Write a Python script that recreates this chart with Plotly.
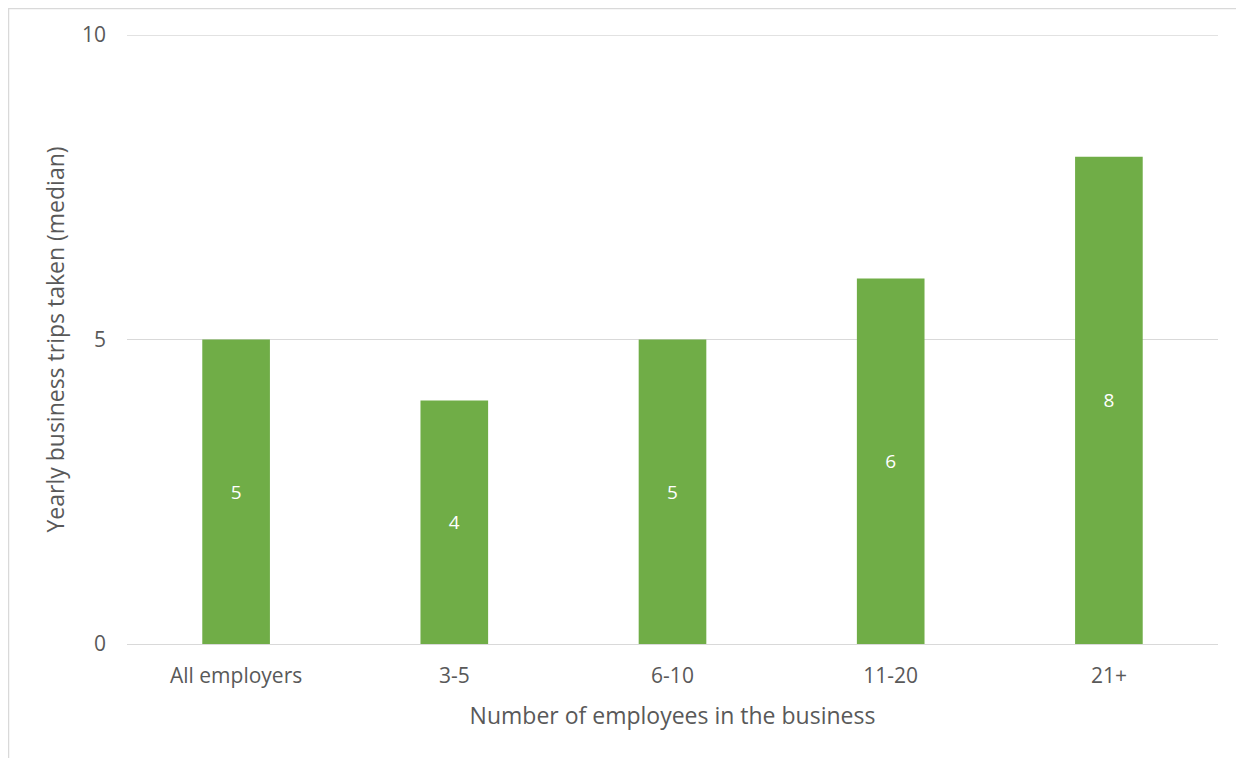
import plotly.graph_objects as go

categories = ["All employers", "3-5", "6-10", "11-20", "21+"]
values = [5, 4, 5, 6, 8]
y_ticks = [0, 5, 10]

# page body has an 8px margin; figure is placed at (8, 8)
W, H = 1236, 750
L, R, T, B = 119, 26, 27, 114
pw, ph = W - L - R, H - T - B

fig = go.Figure(go.Bar(
    x=categories, y=values, width=0.31,
    marker=dict(color="#70AD47", line=dict(width=0)),
    text=[str(v) for v in values], textposition="inside",
    insidetextanchor="middle",
    textfont=dict(color="white", size=19, family="Open Sans"),
))

fig.update_layout(
    width=W, height=H,
    margin=dict(l=L, r=R, t=T, b=B),
    plot_bgcolor="white", paper_bgcolor="white",
    font=dict(family="Open Sans", color="#595959", size=21),
    showlegend=False,
    xaxis=dict(
        title=dict(text="Number of employees in the business", font=dict(size=23), standoff=19),
        showgrid=False, showline=False, ticks="", tickfont=dict(size=21),
        ticklabelstandoff=17,
    ),
    yaxis=dict(
        title=dict(text="Yearly business trips taken (median)", font=dict(size=23), standoff=10),
        range=[0, 10], tickvals=y_ticks, showgrid=True, gridcolor="#D9D9D9", gridwidth=1.3,
        zeroline=True, zerolinecolor="#D9D9D9", zerolinewidth=1.3,
        showline=False, ticks="", ticklabelstandoff=20, tickfont=dict(size=21),
    ),
    shapes=[
        dict(
            type="rect", xref="paper", yref="paper",
            x0=(0.5 - L) / pw, x1=(W + 20 - L) / pw,
            y0=-(B + 20) / ph, y1=1 + (T - 0.5) / ph,
            line=dict(color="#D9D9D9", width=1.5), fillcolor="rgba(0,0,0,0)", layer="below",
        ),
        dict(
            type="line", xref="paper", yref="y", x0=0, x1=1,
            y0=y_ticks[-1], y1=y_ticks[-1],
            line=dict(color="#D9D9D9", width=1.3), layer="below",
        ),
    ],
)

fig.write_html("out.html")
